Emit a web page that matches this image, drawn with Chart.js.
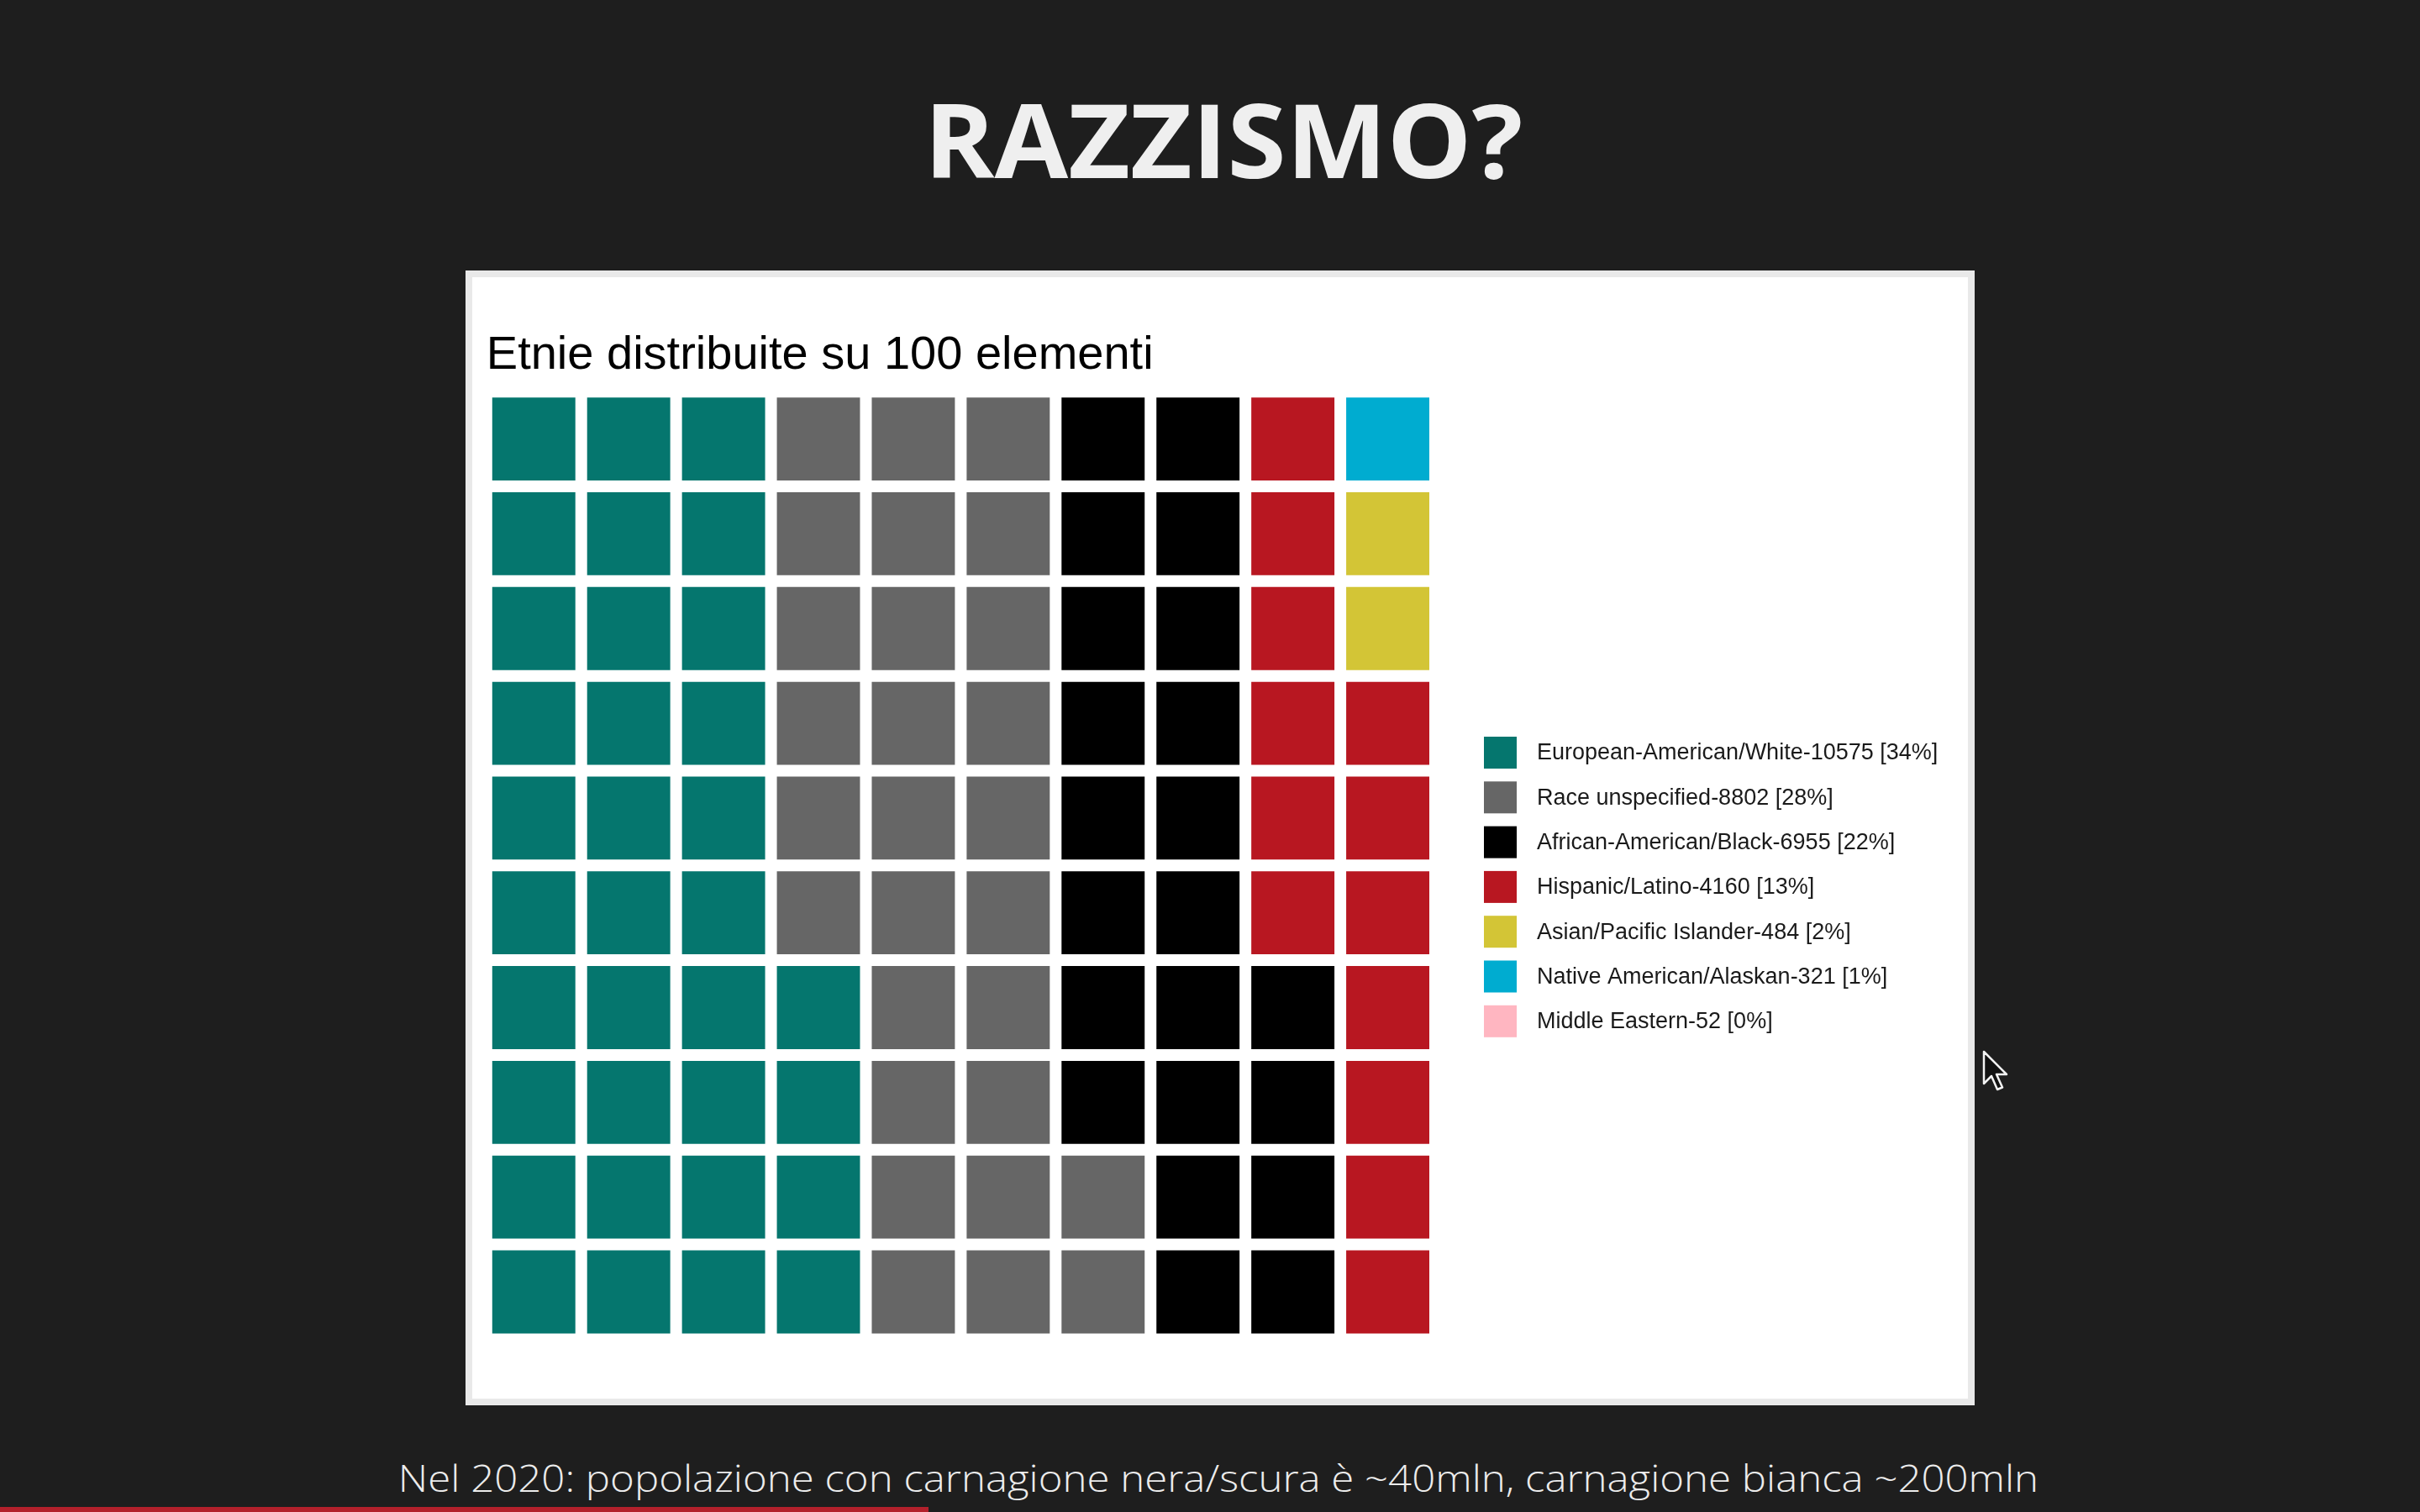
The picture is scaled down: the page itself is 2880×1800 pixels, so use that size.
<!DOCTYPE html>
<html>
<head>
<meta charset="utf-8">
<script src="https://cdn.jsdelivr.net/npm/chart.js@4.4.1/dist/chart.umd.min.js"></script>
<style>
  html, body { margin: 0; padding: 0; width: 2880px; height: 1800px; overflow: hidden; background: #1e1e1e; }
  #slideTitle { position: absolute; left: 1456px; top: 104px; font-family: "Open Sans", "DejaVu Sans", sans-serif; font-weight: 700; font-size: 122px; line-height: 122px; color: #efefef; white-space: nowrap; transform-origin: center top; }
  #panel { position: absolute; left: 554px; top: 322px; width: 1796px; height: 1351px; box-sizing: border-box; background: #ffffff; border: 8px solid #e9e9e9; }
  #chartCanvas { position: absolute; left: 554px; top: 322px; }
  #caption { position: absolute; left: 1450px; top: 1736px; font-family: "Open Sans", "DejaVu Sans", sans-serif; font-weight: 300; font-size: 45px; line-height: 45px; color: #ececec; white-space: nowrap; transform-origin: center top; }
  #progress { position: absolute; left: 0; top: 1794px; width: 1105px; height: 6px; background: #b3202b; }
  #cursor { position: absolute; left: 2359px; top: 1250px; }
</style>
</head>
<body>
<div id="slideTitle">RAZZISMO?</div>
<div id="panel"></div>
<canvas id="chartCanvas" width="1796" height="1351"></canvas>
<div id="caption">Nel 2020: popolazione con carnagione nera/scura è ~40mln, carnagione bianca ~200mln</div>
<div id="progress"></div>
<svg id="cursor" width="34" height="52" viewBox="0 0 34 52">
  <path d="M2,2 L2,40 L11,31 L18,47 L24,44.5 L17,29 L29,29 Z" fill="#111" stroke="#f2f2f2" stroke-width="2.5" stroke-linejoin="round"/>
</svg>
<script>
// ---- data ----
const chartTitle = 'Etnie distribuite su 100 elementi';
const categories = ['European-American/White', 'Race unspecified', 'African-American/Black', 'Hispanic/Latino', 'Asian/Pacific Islander', 'Native American/Alaskan', 'Middle Eastern'];
const counts = [10575, 8802, 6955, 4160, 484, 321, 52];
const percents = [34, 28, 22, 13, 2, 1, 0];
const colors = ['#05766e', '#666666', '#000000', '#b81721', '#d3c536', '#00acd0', '#ffb6c1'];
const columnLabels = ['1', '2', '3', '4', '5', '6', '7', '8', '9', '10'];
const rowsPerColumn = 10;

// fit HTML headings to the reference ink widths
function fitWidth(id, targetInk) {
  const el = document.getElementById(id);
  const cs = getComputedStyle(el);
  const c = document.createElement('canvas').getContext('2d');
  c.font = `${cs.fontWeight} ${cs.fontSize} ${cs.fontFamily}`;
  const m = c.measureText(el.textContent);
  const ink = m.actualBoundingBoxLeft + m.actualBoundingBoxRight;
  const s = targetInk / ink;
  el.style.transform = `translateX(-50%) scaleX(${s})`;
}
fitWidth('slideTitle', 700);
fitWidth('caption', 1944);

// build waffle cells: fill columns bottom-to-top, left-to-right
let k = 0;
const datasets = categories.map((name, i) => {
  const cells = [];
  for (let n = 0; n < percents[i]; n++, k++) {
    const col = Math.floor(k / rowsPerColumn);
    const row = k % rowsPerColumn;
    cells.push({ x: columnLabels[col], y: [row, row + 1] });
  }
  return {
    label: `${name}-${counts[i]} [${percents[i]}%]`,
    data: cells,
    backgroundColor: colors[i],
    borderColor: '#ffffff',
    borderWidth: 7,
    borderSkipped: false,
    inflateAmount: 0,
    grouped: false,
    categoryPercentage: 1,
    barPercentage: 1
  };
});

const waffleLegend = {
  id: 'waffleLegend',
  afterDraw(chart, args, opts) {
    const { ctx, chartArea } = chart;
    ctx.save();
    ctx.font = `${opts.fontSize}px ${opts.fontFamily}`;
    ctx.textBaseline = 'middle';
    ctx.textAlign = 'left';
    chart.data.datasets.forEach((ds, i) => {
      const x = chartArea.right + opts.offsetX;
      const y = opts.top + i * opts.pitch;
      ctx.fillStyle = ds.backgroundColor;
      ctx.fillRect(x, y, opts.boxWidth, opts.boxHeight);
      ctx.fillStyle = opts.color;
      ctx.fillText(ds.label, x + opts.textOffset, y + opts.boxHeight / 2 + 1);
    });
    ctx.restore();
  }
};

new Chart(document.getElementById('chartCanvas'), {
  type: 'bar',
  data: { labels: columnLabels, datasets },
  plugins: [waffleLegend],
  options: {
    responsive: false,
    animation: false,
    events: [],
    layout: { padding: { left: 24.8, right: 642, top: 0, bottom: 78.6 } },
    scales: {
      x: { type: 'category', display: false, offset: true, grid: { display: false } },
      y: { type: 'linear', display: false, min: 0, max: rowsPerColumn, grid: { display: false } }
    },
    plugins: {
      legend: { display: false },
      tooltip: { enabled: false },
      title: {
        display: true,
        text: chartTitle,
        align: 'start',
        color: '#000000',
        font: { family: '"Liberation Sans", Arial, sans-serif', size: 56, weight: 'normal', lineHeight: 1.2 },
        padding: { top: 68, bottom: 9 }
      },
      waffleLegend: {
        offsetX: 58, top: 555, pitch: 53.3, boxWidth: 39, boxHeight: 38, textOffset: 63,
        fontSize: 27, fontFamily: '"Liberation Sans", Arial, sans-serif', color: '#1a1a1a'
      }
    }
  }
});
</script>
</body>
</html>
